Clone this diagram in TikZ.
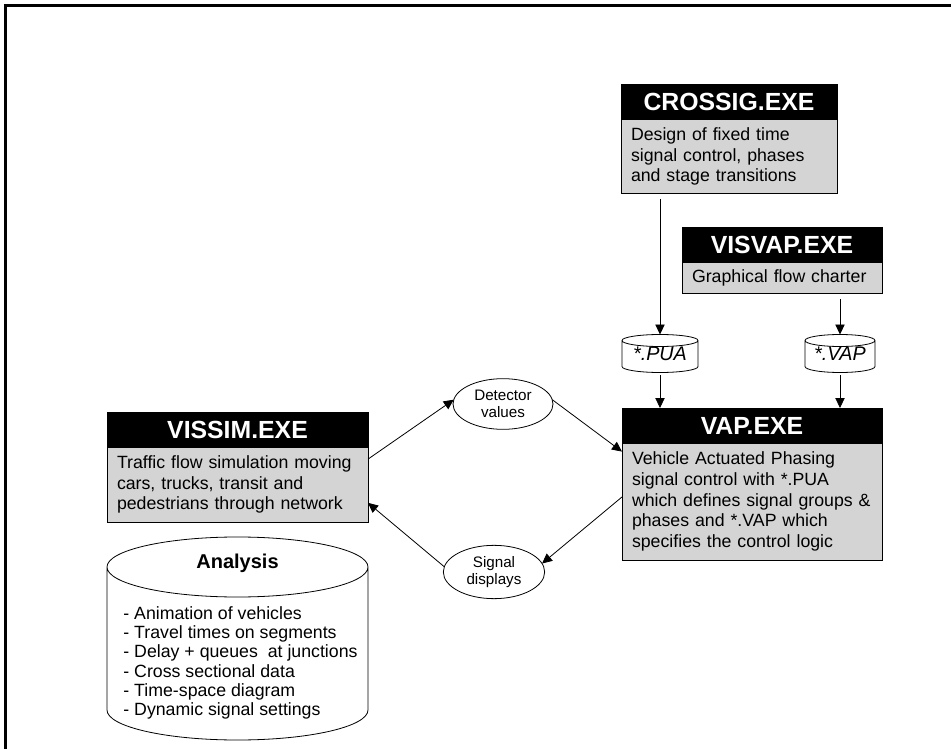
\documentclass[tikz,border=0pt]{standalone}
\usepackage{fontspec}
\setmainfont{Liberation Sans}
\usetikzlibrary{shapes.geometric, arrows.meta, positioning, calc}
\definecolor{boxgray}{gray}{0.83}
\newcommand{\titlefont}{\fontsize{18.6}{21}\selectfont\bfseries}
\newcommand{\bodyfont}{\fontsize{13.3}{15.6}\selectfont}
\newcommand{\listfont}{\fontsize{13.3}{14.5}\selectfont}
\newcommand{\headfont}{\fontsize{15}{18}\selectfont\bfseries}
\newcommand{\smallfont}{\fontsize{11.4}{12.8}\selectfont}
\newcommand{\filefont}{\fontsize{14.8}{17}\selectfont\itshape}
% outline of a standing cylinder round a node: #1 node, #2 radius of the end ellipses
\newcommand{\cylinderoutline}[2]{%
  \draw let \p1=(#1.north west), \p2=(#1.south east), \n1={(\x2-\x1)/2} in
    (\x1,\y1-#2) -- (\x1,\y2+#2)
    arc[start angle=180, end angle=360, x radius=\n1, y radius=#2]
    -- (\x2,\y1-#2)
    arc[start angle=0, end angle=180, x radius=\n1, y radius=#2]
    arc[start angle=180, end angle=360, x radius=\n1, y radius=#2];}

\begin{document}
\begin{tikzpicture}[
    x=0.75pt, y=-0.75pt,
    progtitle/.style={rectangle, draw, fill=black, text=white, font=\titlefont, minimum height=26.25pt, inner sep=0pt, outer sep=0pt},
    progdesc/.style={rectangle, draw, fill=boxgray, font=\bodyfont, align=left, inner xsep=7.5pt, inner ysep=0pt, outer sep=0pt},
    datafile/.style={rectangle, inner sep=0pt, outer sep=0pt},
    signalnode/.style={ellipse, draw, font=\smallfont, align=center, inner sep=0pt, outer sep=0pt},
    arrow/.style={-{Triangle[length=7.5pt, width=7pt]}, line width=0.6pt},
    line width=0.6pt
]
    \useasboundingbox (0,0) rectangle (951,749);

    % Frame
    \draw[line width=1.6pt] (5.5,749) -- (5.5,5.5) -- (951,5.5);

    % Programs
    \node[progtitle, minimum width=162pt] (crossigT) at (729,102) {CROSSIG.EXE};
    \node[progdesc, below=0pt of crossigT, text width=147pt, minimum height=55.5pt] (crossig)
        {Design of fixed time\\signal control, phases\\and stage transitions};

    \node[progtitle, minimum width=150pt] (visvapT) at (782,244.5) {VISVAP.EXE};
    \node[progdesc, below=0pt of visvapT, text width=135pt, minimum height=23.25pt] (visvap)
        {Graphical flow charter};

    \node[progtitle, minimum width=195pt] (vapT) at (752,425.5) {VAP.EXE};
    \node[progdesc, below=0pt of vapT, text width=180pt, minimum height=87.75pt] (vap)
        {Vehicle Actuated Phasing\\signal control with *.PUA\\which defines signal groups \&\\phases and *.VAP which\\specifies the control logic};

    \node[progtitle, minimum width=195.75pt] (vissimT) at (237.5,429.5) {VISSIM.EXE};
    \node[progdesc, below=0pt of vissimT, text width=180.75pt, minimum height=56.25pt] (vissim)
        {Traffic flow simulation moving\\cars, trucks, transit and\\pedestrians through network};

    % Data files
    \node[datafile, font=\filefont, minimum width=57pt, minimum height=28.5pt] (puafile) at (660,353.5) {\raisebox{-4.5pt}{*.PUA}};
    \node[datafile, font=\filefont, minimum width=52.5pt, minimum height=28.5pt] (vapfile) at (840,353.5) {\raisebox{-4.5pt}{*.VAP}};
    \cylinderoutline{puafile}{4.5pt}
    \cylinderoutline{vapfile}{4.5pt}

    % Exchanged values
    \node[signalnode, minimum width=75pt, minimum height=38pt] (detector) at (503,404) {Detector\\values};
    \node[signalnode, minimum width=76pt, minimum height=40pt] (signal) at (494,572) {Signal\\displays};

    % Analysis
    \node[datafile, minimum width=195.75pt, minimum height=152.25pt] (analysis) at (237.5,638.5) {};
    \cylinderoutline{analysis}{22.5pt}
    \node[font=\headfont] (analysishead) at (237.5,563) {Analysis};
    \node[font=\listfont, align=left, anchor=north west, inner sep=0pt] (analysislist) at (123,606)
        {- Animation of vehicles\\- Travel times on segments\\- Delay + queues\ \ at junctions\\- Cross sectional data\\- Time-space diagram\\- Dynamic signal settings};

    % Connections
    \draw[arrow, shorten <=4pt] (crossig.south -| puafile.north) -- (puafile.north);
    \draw[arrow, shorten <=4.5pt] (visvap.south -| vapfile.north) -- (vapfile.north);
    \draw[arrow, shorten <=2pt] (puafile.south) -- (puafile.south |- vapT.north);
    \draw[arrow, shorten <=2pt] (vapfile.south) -- (vapfile.south |- vapT.north);
    \draw[arrow] (vissim.11) -- (detector.175);
    \draw[arrow] (detector.5) -- (vap.159);
    \draw[arrow] (vap.178) -- (signal.10);
    \draw[arrow] (signal.174) -- (vissim.352);

\end{tikzpicture}
\end{document}
